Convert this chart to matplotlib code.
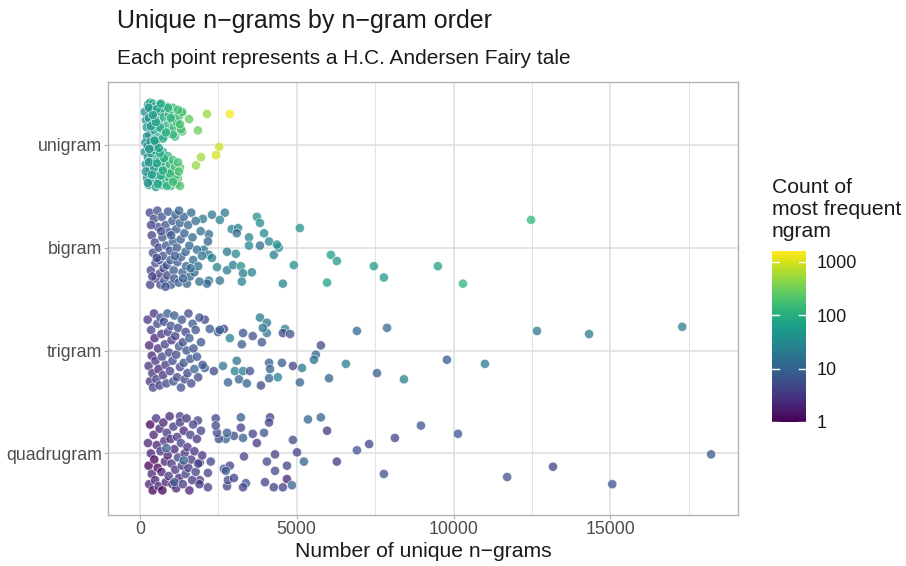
import numpy as np
import matplotlib
matplotlib.use("Agg")
import matplotlib.pyplot as plt
from matplotlib.colors import LogNorm

plt.rcParams['font.family'] = ['Liberation Sans', 'DejaVu Sans']

orders = ["unigram", "bigram", "trigram", "quadrugram"]

# unigram: unique count, jitter, count of most frequent ngram
uni_x = [200, 260, 330, 420, 500, 640, 730, 880, 1050, 1060, 1350, 1570, 2140, 2870, 1350, 1850,
         160, 224, 288, 320, 384, 416, 480, 512, 576, 608, 672, 704, 768, 800, 864, 928, 960, 1024,
         1088, 1120, 1184, 1248, 1312, 1344, 224, 288, 448, 640, 736, 896, 1056, 1216, 1280, 352,
         512, 544, 832, 992, 416, 672,
         2530, 2430, 1950, 1790, 1280, 1220,
         160, 192, 224, 256, 288, 320, 352, 384, 416, 448, 480, 512, 544, 576, 608, 640, 672, 704,
         736, 768, 800, 832, 864, 896, 928, 960, 992, 1024, 1056, 1088, 1120, 1152, 1184, 1216, 1248,
         1280, 192, 256, 352, 448, 576, 672, 768, 864, 960, 1056, 480, 640, 288, 384, 544, 736,
         180, 250, 340, 430, 520, 610, 300, 470]
uni_j = [-0.24, -0.39, -0.41, -0.40, -0.38, -0.39, -0.36, -0.37, -0.36, -0.28, -0.31, -0.25, -0.30, -0.30, -0.13, -0.14,
         -0.32, -0.17, -0.26, -0.10, -0.34, -0.20, -0.14, -0.29, -0.07, -0.23, -0.32, -0.15, -0.27, -0.09, -0.19, -0.30, -0.13, -0.24,
         -0.17, -0.08, -0.22, -0.28, -0.15, -0.32, -0.08, -0.36, -0.05, -0.17, -0.06, -0.36, -0.10, -0.34, -0.20, -0.18,
         -0.22, -0.35, -0.12, -0.26, -0.29, -0.40,
         0.02, 0.10, 0.12, 0.20, 0.22, 0.33,
         0.07, 0.19, 0.32, 0.12, 0.39, 0.24, 0.15, 0.36, 0.05, 0.29, 0.17, 0.41, 0.10, 0.26, 0.34, 0.15, 0.22, 0.39,
         0.07, 0.30, 0.17, 0.37, 0.24, 0.11, 0.32, 0.19, 0.40, 0.26, 0.15, 0.34, 0.22, 0.30, 0.38, 0.17, 0.26,
         0.40, 0.26, 0.37, 0.08, 0.22, 0.38, 0.30, 0.13, 0.40, 0.28, 0.36, 0.05, 0.08, 0.17, 0.29, 0.18, 0.25,
         -0.02, 0.01, -0.03, 0.02, -0.01, 0.03, 0.04, -0.04]
uni_c = [30, 45, 60, 70, 80, 90, 110, 130, 140, 150, 220, 260, 500, 1500, 200, 300,
         32, 38, 44, 42, 52, 55, 62, 66, 70, 74, 82, 85, 92, 95, 105, 115, 120, 130,
         140, 140, 155, 165, 175, 180, 38, 44, 60, 78, 90, 110, 135, 160, 170, 50,
         66, 68, 100, 125, 55, 80,
         900, 1000, 550, 500, 240, 230,
         32, 36, 40, 42, 46, 48, 52, 56, 58, 60, 64, 68, 70, 74, 76, 80, 86, 88,
         92, 98, 102, 108, 112, 118, 125, 132, 138, 142, 148, 155, 162, 168, 172, 178, 185,
         195, 36, 42, 50, 60, 74, 84, 96, 115, 130, 150, 62, 78, 45, 55, 70, 94,
         30, 36, 44, 52, 60, 70, 40, 56]

bi_x = [5100, 6090, 6280, 5970, 7460, 7780, 9500, 10300, 12470, 4910, 4560, 4270, 4430, 3960,
        3730, 3830, 3480, 3480, 3830, 4120, 4370, 3060, 2780, 2930, 3130, 3090, 2710, 2550, 2300,
        2010, 2200, 2170, 2040, 2200, 2300, 2460, 2780, 2970, 3220, 3290, 3570, 3250, 2550, 2200, 2140,
        320, 380, 420, 350, 330, 450, 480, 500, 520, 560, 580, 600, 620, 640, 660, 700, 720, 740,
        760, 780, 820, 840, 860, 880, 900, 940, 960, 980, 1000, 1040, 1060, 1080, 1100, 1140, 1160,
        1180, 1200, 1240, 1280, 1300, 1320, 1360, 1400, 1420, 1460, 1480, 1500, 1540, 1580, 1600,
        1640, 1680, 1700, 1740, 1780, 1820, 1860, 1900, 1940, 1980, 360, 400, 540, 680, 820, 1000,
        1120, 1250, 1380, 1620]
bi_j = [-0.19, 0.07, 0.13, 0.34, 0.18, 0.29, 0.18, 0.35, -0.27, 0.17, 0.35, 0.07, 0.00, -0.14,
        -0.30, -0.24, -0.10, -0.02, -0.02, -0.06, -0.03, 0.06, 0.04, -0.18, -0.19, -0.14, -0.34, -0.27, -0.32,
        -0.28, -0.13, -0.06, 0.02, 0.07, 0.10, 0.19, 0.22, 0.17, 0.18, 0.25, 0.24, 0.33, 0.32, 0.32, 0.35,
        -0.34, -0.12, 0.05, 0.22, 0.36, -0.28, -0.05, 0.15, 0.30, -0.36, -0.20, 0.00, 0.12, 0.25, 0.36, -0.30, -0.10, 0.08,
        0.20, 0.32, -0.22, -0.02, 0.17, 0.27, -0.35, -0.15, 0.03, 0.12, 0.36, -0.26, -0.06, 0.22, 0.30, -0.32, -0.18,
        0.00, 0.14, 0.34, -0.24, -0.08, 0.09, 0.24, -0.30, -0.14, 0.04, 0.18, 0.35, -0.22, -0.02, 0.28,
        -0.34, -0.10, 0.12, 0.24, -0.26, 0.02, 0.18, 0.33, -0.16, 0.08, -0.22, 0.28, 0.10, -0.16, 0.38, -0.12,
        0.08, -0.36, 0.30, 0.20]
bi_c = [40, 60, 50, 60, 55, 50, 65, 120, 130, 40, 25, 20, 40, 30,
        40, 35, 25, 30, 12, 30, 35, 30, 20, 25, 25, 12, 20, 25, 20,
        18, 12, 10, 15, 20, 25, 25, 18, 20, 40, 20, 25, 25, 15, 15, 12,
        4, 4, 5, 4, 4, 5, 5, 5, 4, 6, 5, 5, 5, 4, 5, 6, 6, 6,
        5, 7, 6, 7, 6, 5, 7, 7, 6, 7, 7, 7, 8, 7, 6, 8, 8,
        8, 7, 8, 9, 8, 9, 8, 9, 10, 9, 10, 9, 10, 11, 10,
        12, 11, 12, 12, 13, 13, 14, 13, 15, 16, 4, 4, 5, 5, 6, 7,
        8, 9, 9, 11]

tri_x = [6920, 7880, 12660, 14320, 17290, 5770, 5610, 5550, 5170, 6570, 6030, 7560, 8420, 9790, 11000, 5100,
         3830, 4050, 4630, 4050, 3920, 4560, 4790, 3600, 3290, 3890, 2680, 2490, 2870, 3250, 3090, 2650,
         3030, 3290, 3510, 3160, 3410, 3860, 4120, 4150, 4120, 4400, 4530, 4880, 2810, 2360, 2070, 2550,
         2230, 2070,
         250, 300, 280, 320, 360, 380, 400, 420, 450, 470, 500, 530, 560, 580, 600, 630, 660, 690, 710,
         740, 770, 800, 820, 850, 880, 900, 930, 960, 990, 1010, 1040, 1070, 1100, 1130, 1160, 1190,
         1220, 1250, 1280, 1310, 1340, 1370, 1400, 1430, 1460, 1490, 1520, 1550, 1580, 1610, 1640, 1680,
         1710, 1740, 1780, 1820, 1860, 1900, 1950, 2000]
tri_j = [-0.19, -0.22, -0.19, -0.16, -0.23, -0.05, 0.04, 0.09, 0.17, 0.13, 0.27, 0.22, 0.28, 0.09, 0.13, 0.31,
         -0.32, -0.27, -0.21, -0.17, -0.22, -0.17, -0.16, -0.14, -0.17, -0.08, -0.21, -0.18, -0.12, -0.06, 0.10, 0.15,
         0.20, 0.20, 0.20, 0.28, 0.32, 0.34, 0.12, 0.18, 0.27, 0.26, 0.12, 0.15, 0.31, 0.20, 0.17, -0.20,
         -0.21, -0.30,
         -0.30, -0.05, 0.15, 0.30, -0.20, 0.05, 0.22, 0.36, -0.36, -0.12, 0.10, 0.28, -0.26, -0.02, 0.18, 0.34, -0.32, -0.16, 0.06,
         0.24, -0.28, -0.06, 0.14, 0.32, -0.36, -0.18, 0.02, 0.20, -0.24, -0.10, 0.10, 0.30, -0.34, -0.14, 0.04, 0.26,
         -0.22, -0.04, 0.16, 0.36, -0.30, -0.08, 0.12, 0.28, -0.18, 0.00, 0.22, -0.36, -0.12, 0.08, 0.32, -0.26,
         -0.02, 0.18, -0.20, 0.06, 0.26, -0.32, -0.08, 0.14]
tri_c = [12, 12, 20, 20, 22, 5, 12, 14, 18, 22, 10, 8, 25, 8, 18, 10,
         20, 20, 22, 20, 18, 5, 6, 6, 6, 6, 4, 8, 25, 8, 15, 18,
         22, 22, 6, 10, 10, 5, 10, 10, 10, 22, 8, 4, 10, 5, 8, 8,
         8, 4,
         3, 2, 3, 3, 4, 2, 3, 4, 3, 2, 3, 4, 5, 3, 2, 4, 6, 3, 4,
         3, 5, 4, 3, 5, 8, 4, 5, 4, 6, 3, 5, 6, 7, 4, 5, 5,
         5, 6, 4, 6, 6, 5, 7, 5, 4, 6, 5, 5, 8, 6, 5, 7,
         6, 9, 6, 7, 5, 6, 6, 7]

quad_x = [18210, 13170, 15060, 11710, 7780, 6280, 5230, 6920, 7310, 8130, 8960, 10140, 5360, 5770, 5970,
          4150, 4120, 3960, 3600, 3730, 3220, 3220, 3290, 3000, 2740, 2520, 2460, 2420, 2420, 2780,
          1850, 1280, 4880, 5010, 4310, 4050, 4310, 4690, 4690, 4850, 4560, 4270, 3990, 3320, 3380,
          3290, 2780, 2810, 3000, 2680, 2870, 2740, 2260, 2170, 2170, 1910, 1910,
          260, 280, 300, 330, 350, 380, 410, 440, 460, 490, 520, 540, 570, 600, 630, 660, 690, 720,
          750, 780, 800, 830, 860, 890, 920, 950, 980, 1010, 1040, 1070, 1100, 1130, 1160, 1190, 1220,
          1250, 1280, 1310, 1340, 1370, 1400, 1430, 1460, 1490, 1520, 1550, 1580, 1610, 1640, 1670,
          1700, 1740, 1780, 1820, 1860, 1900, 1950, 1990, 1400, 1100, 850]
quad_j = [0.01, 0.13, 0.30, 0.23, 0.20, 0.08, 0.08, -0.03, -0.09, -0.15, -0.27, -0.19, -0.33, -0.35, -0.22,
          -0.35, -0.30, -0.20, -0.19, -0.10, -0.35, -0.25, -0.15, -0.17, -0.14, -0.14, -0.20, -0.34, -0.27, -0.20,
          -0.32, -0.36, -0.13, -0.01, 0.01, 0.08, 0.17, 0.12, 0.25, 0.31, 0.33, 0.33, 0.28, 0.03, 0.29,
          0.33, 0.32, 0.26, 0.24, 0.15, 0.12, 0.17, 0.08, 0.33, 0.19, 0.09, 0.26,
          -0.10, 0.12, 0.30, -0.28, 0.00, 0.20, 0.36, -0.18, 0.06, 0.26, -0.34, -0.08, 0.14, 0.32, -0.24, -0.02, 0.18, 0.36,
          -0.30, -0.12, 0.08, 0.28, -0.20, 0.02, 0.22, -0.36, -0.14, 0.10, 0.30, -0.26, -0.04, 0.16, 0.34, -0.16, 0.04,
          0.24, -0.30, -0.10, 0.12, 0.30, -0.22, 0.00, 0.20, -0.34, -0.06, 0.14, 0.36, -0.18, 0.06, 0.26,
          -0.28, -0.02, 0.18, -0.14, 0.10, 0.30, -0.22, 0.02, 0.07, 0.28, -0.05]
quad_c = [8, 4, 6, 6, 6, 3, 10, 6, 4, 4, 6, 6, 10, 10, 3,
          4, 4, 6, 4, 3, 8, 4, 10, 5, 10, 5, 5, 5, 5, 8,
          4, 4, 5, 4, 4, 5, 5, 4, 2, 10, 4, 4, 4, 4, 6,
          4, 4, 5, 4, 6, 4, 8, 4, 4, 4, 3, 3,
          2, 1, 2, 1, 2, 2, 1, 2, 1, 2, 3, 2, 1, 2, 2, 3, 2, 1,
          2, 3, 2, 2, 3, 2, 3, 2, 2, 3, 2, 3, 2, 3, 2, 3, 4,
          2, 3, 4, 3, 3, 2, 3, 4, 3, 3, 3, 2, 4, 3, 3,
          4, 3, 4, 3, 4, 3, 4, 3, 10, 8, 8]

series = [(uni_x, uni_j, uni_c), (bi_x, bi_j, bi_c), (tri_x, tri_j, tri_c), (quad_x, quad_j, quad_c)]

fig = plt.figure(figsize=(9.06, 5.66), dpi=100)
ax = fig.add_axes([0.119, 0.090, 0.696, 0.765])

norm = LogNorm(vmin=1, vmax=1600)
for i, (xs, js, cs) in enumerate(series):
    ys = i + np.array(js)
    sc = ax.scatter(xs, ys, c=cs, cmap="viridis", norm=norm, s=44, alpha=0.75,
                    edgecolors="white", linewidths=0.5, zorder=3)

ax.set_xlim(-1020, 19080)
ax.set_ylim(3.6, -0.61)
ax.set_yticks(range(4))
ax.set_yticklabels(orders)
ax.set_xticks([0, 5000, 10000, 15000])
ax.set_xticks([2500, 7500, 12500, 17500], minor=True)
ax.grid(True, which="major", color="#DEDEDE", lw=1.1, zorder=0)
ax.grid(True, which="minor", axis="x", color="#DEDEDE", lw=0.6, zorder=0)
ax.tick_params(which="major", colors="#B3B3B3", labelcolor="#4D4D4D", labelsize=12.8, length=3, pad=1)
ax.tick_params(which="minor", length=0)
for sp in ax.spines.values():
    sp.set_color("#B3B3B3")
    sp.set_linewidth(1.0)
ax.set_xlabel("Number of unique n\u2212grams", fontsize=15.2, color="#1A1A1A", labelpad=3)

fig.text(0.129, 0.963, "Unique n\u2212grams by n\u2212gram order", fontsize=18, va="center", color="#1A1A1A")
fig.text(0.129, 0.897, "Each point represents a H.C. Andersen Fairy tale", fontsize=15, va="center", color="#1A1A1A")

# colourbar legend
cax = fig.add_axes([772 / 906, 1 - 422 / 566, 34 / 906, 171 / 566])
cb = fig.colorbar(sc, cax=cax)
cb.solids.set_alpha(1)
cb.outline.set_visible(False)
cb.set_ticks([1, 10, 100, 1000])
cb.set_ticklabels(["1", "10", "100", "1000"])
cb.ax.minorticks_off()
cax.tick_params(length=0, labelsize=13, labelcolor="#1A1A1A", pad=8)
for t in [1, 10, 100, 1000]:
    cax.plot([0, 0.2], [t, t], color="white", lw=1, transform=cax.get_yaxis_transform())
    cax.plot([0.8, 1], [t, t], color="white", lw=1, transform=cax.get_yaxis_transform())
fig.text(772 / 906, 1 - 178 / 566, "Count of\nmost frequent\nngram", fontsize=15.2, va="top",
         color="#1A1A1A", linespacing=1.2)

fig.savefig("out.png", dpi=100)
